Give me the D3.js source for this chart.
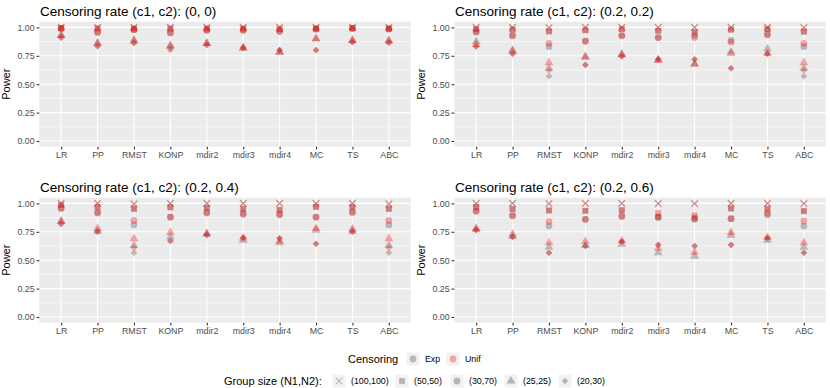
<!DOCTYPE html>
<html><head><meta charset="utf-8">
<script src="https://cdn.jsdelivr.net/npm/d3@7"></script>
<style>body{margin:0;background:#fff}svg{display:block}text{font-family:"Liberation Sans",Arial,sans-serif}</style>
</head><body><svg id="c" width="830" height="388"></svg>
<script>
const methods = ["LR","PP","RMST","KONP","mdir2","mdir3","mdir4","MC","TS","ABC"];
const groupLabels = ["(100,100)","(50,50)","(30,70)","(25,25)","(20,30)"];
const censLabels = ["Exp","Unif"];
const panelTitles = ["Censoring rate (c1, c2): (0, 0)","Censoring rate (c1, c2): (0.2, 0.2)","Censoring rate (c1, c2): (0.2, 0.4)","Censoring rate (c1, c2): (0.2, 0.6)"];
const yTicks = [0,0.25,0.5,0.75,1];

// rows: group sizes in groupLabels order; columns: methods
const exp_0_0 = [
 [1,1,1,1,1,1,1,1,1,1],
 [0.995,0.99,0.99,0.99,0.99,0.99,0.985,0.99,0.995,0.99],
 [0.99,0.96,0.98,0.955,0.975,0.975,0.965,0.985,0.99,0.985],
 [0.93,0.86,0.88,0.835,0.86,0.82,0.785,0.90,0.885,0.885],
 [0.91,0.835,0.865,0.815,0.845,0.82,0.80,0.80,0.87,0.865]];
const unif_0_0 = [
 [1,1,1,1,1,1,1,1,1,1],
 [0.995,0.99,0.99,0.99,0.99,0.99,0.985,0.99,0.995,0.99],
 [0.99,0.955,0.98,0.95,0.975,0.975,0.965,0.985,0.99,0.985],
 [0.93,0.86,0.89,0.84,0.86,0.82,0.78,0.90,0.885,0.88],
 [0.91,0.835,0.86,0.80,0.845,0.82,0.80,0.80,0.87,0.865]];
const exp_2_2 = [
 [1,1,0.995,1,1,1,1,1,1,0.995],
 [0.985,0.98,0.965,0.975,0.985,0.97,0.96,0.98,0.985,0.96],
 [0.96,0.93,0.83,0.88,0.93,0.91,0.93,0.885,0.94,0.83],
 [0.875,0.80,0.64,0.74,0.765,0.715,0.68,0.785,0.81,0.64],
 [0.835,0.77,0.57,0.67,0.745,0.72,0.72,0.64,0.77,0.57]];
const unif_2_2 = [
 [1,1,1,1,1,1,1,1,1,1],
 [0.985,0.98,0.965,0.975,0.985,0.97,0.955,0.98,0.985,0.965],
 [0.96,0.925,0.86,0.88,0.925,0.91,0.91,0.87,0.935,0.86],
 [0.85,0.79,0.69,0.74,0.76,0.71,0.675,0.77,0.77,0.69],
 [0.83,0.765,0.62,0.67,0.745,0.72,0.72,0.64,0.765,0.62]];
const exp_2_4 = [
 [1,1,0.99,1,1,1,1,1,1,0.99],
 [0.985,0.97,0.95,0.965,0.96,0.955,0.945,0.97,0.97,0.95],
 [0.96,0.92,0.81,0.88,0.92,0.905,0.90,0.88,0.92,0.81],
 [0.84,0.755,0.63,0.705,0.73,0.675,0.655,0.765,0.755,0.63],
 [0.82,0.75,0.565,0.67,0.725,0.695,0.695,0.645,0.75,0.565]];
const unif_2_4 = [
 [1,1,1,1,1,1,1,1,1,1],
 [0.985,0.965,0.955,0.965,0.96,0.95,0.94,0.97,0.965,0.955],
 [0.955,0.915,0.85,0.88,0.915,0.91,0.905,0.88,0.925,0.85],
 [0.845,0.78,0.69,0.745,0.735,0.695,0.67,0.78,0.775,0.69],
 [0.82,0.75,0.61,0.67,0.72,0.70,0.69,0.645,0.75,0.61]];
const exp_2_6 = [
 [1,1,0.995,1,1,0.995,0.995,1,1,0.995],
 [0.97,0.95,0.935,0.935,0.94,0.885,0.875,0.955,0.955,0.93],
 [0.93,0.895,0.80,0.86,0.89,0.875,0.86,0.865,0.90,0.80],
 [0.77,0.71,0.615,0.63,0.64,0.565,0.535,0.72,0.675,0.615],
 [0.765,0.705,0.565,0.625,0.665,0.635,0.625,0.635,0.695,0.565]];
const unif_2_6 = [
 [1,1,1,1,1,1,1,1,1,1],
 [0.965,0.95,0.94,0.935,0.94,0.915,0.895,0.955,0.95,0.935],
 [0.935,0.89,0.84,0.86,0.885,0.88,0.865,0.865,0.91,0.845],
 [0.78,0.73,0.655,0.665,0.67,0.605,0.57,0.745,0.70,0.655],
 [0.765,0.705,0.565,0.625,0.665,0.635,0.625,0.635,0.695,0.565]];

const panelData = [[exp_0_0,unif_0_0],[exp_2_2,unif_2_2],[exp_2_4,unif_2_4],[exp_2_6,unif_2_6]];
const censColors = ["#7f7f7f","#ff0000"];
const censAlpha = [0.5,0.33];

const svg = d3.select("#c");
const panels = [
 {x0:39.3,x1:410.7,y0:21.7,y1:146.7,tx:40,ty:16},
 {x0:454.3,x1:825.7,y0:21.7,y1:146.7,tx:455,ty:16},
 {x0:39.3,x1:410.7,y0:197.7,y1:322.7,tx:40,ty:192},
 {x0:454.3,x1:825.7,y0:197.7,y1:322.7,tx:455,ty:192}];

function shapePath(g, s){
  s = s||1;
  if(g===0) return `M${-3.3*s},${-3.3*s}L${3.3*s},${3.3*s}M${-3.3*s},${3.3*s}L${3.3*s},${-3.3*s}`;
  if(g===1) return d3.symbol(d3.symbolSquare, 34*s*s)();
  if(g===2) return d3.symbol(d3.symbolCircle, 36*s*s)();
  if(g===3) return d3.symbol(d3.symbolTriangle, 34*s*s)();
  return `M0,${-3.3*s}L${3.3*s},0L0,${3.3*s}L${-3.3*s},0Z`;
}
function drawShape(sel, g, color, alpha, x, y, s){
  const p = sel.append("path").attr("d", shapePath(g,s)).attr("transform",`translate(${x},${y})`);
  if(g===0) p.attr("fill","none").attr("stroke",color).attr("stroke-opacity",alpha).attr("stroke-width",1.05);
  else p.attr("fill",color).attr("fill-opacity",alpha);
  return p;
}

panels.forEach((P,pi)=>{
  const x = d3.scalePoint().domain(methods).range([P.x0,P.x1]).padding(0.6);
  const y = d3.scaleLinear().domain([-0.05,1.05]).range([P.y1,P.y0]);
  const g = svg.append("g");
  g.append("rect").attr("x",P.x0).attr("y",P.y0).attr("width",P.x1-P.x0).attr("height",P.y1-P.y0).attr("fill","#ebebeb");
  [0.125,0.375,0.625,0.875].forEach(v=>g.append("line").attr("x1",P.x0).attr("x2",P.x1).attr("y1",y(v)).attr("y2",y(v)).attr("stroke","#fff").attr("stroke-width",0.55));
  yTicks.forEach(v=>g.append("line").attr("x1",P.x0).attr("x2",P.x1).attr("y1",y(v)).attr("y2",y(v)).attr("stroke","#fff").attr("stroke-width",1.1));
  methods.forEach(m=>g.append("line").attr("x1",x(m)).attr("x2",x(m)).attr("y1",P.y0).attr("y2",P.y1).attr("stroke","#fff").attr("stroke-width",1.1));
  const ya = g.append("g").attr("transform",`translate(${P.x0},0)`).call(d3.axisLeft(y).tickValues(yTicks).tickFormat(d3.format(".2f")).tickSize(2.7).tickPadding(2));
  const xa = g.append("g").attr("transform",`translate(0,${P.y1})`).call(d3.axisBottom(x).tickSize(2.7).tickPadding(2));
  [ya,xa].forEach(a=>{a.select(".domain").remove();a.selectAll("line").attr("stroke","#333").attr("stroke-width",1.1);a.selectAll("text").attr("fill","#4d4d4d").style("font-size","8.8px").style("font-family","Liberation Sans, Arial, sans-serif");});
  g.append("text").attr("x",P.tx).attr("y",P.ty).text(panelTitles[pi]).style("font-size","13.5px").attr("fill","#000");
  g.append("text").attr("transform",`translate(${P.x0-29.5},${(P.y0+P.y1)/2}) rotate(-90)`).attr("text-anchor","middle").text("Power").style("font-size","11px");
  const pts = g.append("g");
  panelData[pi].forEach((mat,ci)=>{
    mat.forEach((row,gi)=>{
      row.forEach((v,mi)=>{
        drawShape(pts, gi, censColors[ci], censAlpha[ci], x(methods[mi]), y(v), 1);
      });
    });
  });
});

// legends
const L1y = 359, L2y = 381;
svg.append("text").attr("x",348).attr("y",L1y+4).text("Censoring").style("font-size","11px");
const censKeyX = [413,453];
censLabels.forEach((c,i)=>{
  svg.append("rect").attr("x",censKeyX[i]-6.5).attr("y",L1y-6.5).attr("width",13).attr("height",13).attr("fill","#f2f2f2");
  drawShape(svg,2,censColors[i],censAlpha[i],censKeyX[i],L1y,1);
  svg.append("text").attr("x",censKeyX[i]+12).attr("y",L1y+3).text(c).style("font-size","8.8px");
});
svg.append("text").attr("x",224).attr("y",L2y+4).text("Group size (N1,N2):").style("font-size","11px");
const grpKeyX = [339,402,457,511,565];
groupLabels.forEach((lab,i)=>{
  svg.append("rect").attr("x",grpKeyX[i]-6.5).attr("y",L2y-6.5).attr("width",13).attr("height",13).attr("fill","#f2f2f2");
  drawShape(svg,i,"#000",0.25,grpKeyX[i],L2y,1);
  svg.append("text").attr("x",grpKeyX[i]+12).attr("y",L2y+3).text(lab).style("font-size","8.8px");
});
</script></body></html>
